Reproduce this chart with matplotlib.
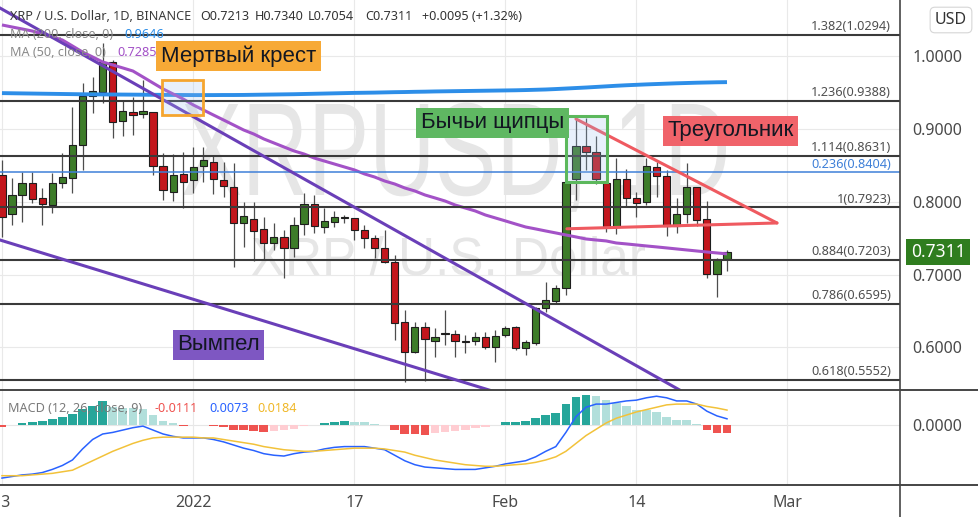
import numpy as np
import pandas as pd
import matplotlib
matplotlib.use('Agg')
import matplotlib.pyplot as plt
from matplotlib.patches import Rectangle, PathPatch
from matplotlib.textpath import TextPath
from matplotlib.font_manager import FontProperties
from matplotlib.transforms import Affine2D
from matplotlib.lines import Line2D

plt.rcParams['font.family'] = ['Noto Sans', 'DejaVu Sans']

W, H = 979, 517

# ---------------- данные (XRP/USD, 1D) ----------------
dates = pd.date_range('2021-12-13', '2022-02-23', freq='D')

opens = [0.837, 0.783, 0.810, 0.826, 0.805, 0.796, 0.826, 0.833, 0.878, 0.946,
         0.951, 0.992, 0.911, 0.923, 0.921, 0.923, 0.850, 0.813, 0.838, 0.830,
         0.849, 0.855, 0.830, 0.821, 0.771, 0.777, 0.763, 0.743, 0.752, 0.737,
         0.769, 0.797, 0.766, 0.772, 0.778, 0.778, 0.761, 0.750, 0.737, 0.717,
         0.635, 0.594, 0.628, 0.609, 0.619, 0.618, 0.609, 0.609, 0.614, 0.600,
         0.617, 0.628, 0.599, 0.606, 0.654, 0.664, 0.682, 0.831, 0.877, 0.869,
         0.826, 0.766, 0.832, 0.805, 0.800, 0.848, 0.836, 0.767, 0.784, 0.821,
         0.776, 0.701, 0.7213]
highs = [0.858, 0.833, 0.841, 0.841, 0.819, 0.840, 0.867, 0.930, 0.963, 0.972,
         1.018, 0.995, 0.939, 0.944, 0.968, 0.923, 0.867, 0.866, 0.869, 0.875,
         0.875, 0.864, 0.855, 0.853, 0.800, 0.800, 0.779, 0.771, 0.761, 0.779,
         0.812, 0.809, 0.792, 0.787, 0.782, 0.778, 0.768, 0.754, 0.761, 0.727,
         0.651, 0.635, 0.635, 0.627, 0.651, 0.624, 0.617, 0.621, 0.621, 0.624,
         0.629, 0.630, 0.610, 0.655, 0.690, 0.686, 0.830, 0.915, 0.915, 0.891,
         0.826, 0.860, 0.845, 0.814, 0.860, 0.855, 0.844, 0.805, 0.853, 0.821,
         0.801, 0.723, 0.7340]
lows = [0.752, 0.768, 0.772, 0.799, 0.768, 0.785, 0.819, 0.812, 0.844, 0.922,
        0.936, 0.888, 0.890, 0.892, 0.915, 0.837, 0.803, 0.801, 0.792, 0.812,
        0.827, 0.811, 0.807, 0.711, 0.738, 0.719, 0.720, 0.734, 0.695, 0.724,
        0.754, 0.757, 0.757, 0.766, 0.771, 0.748, 0.737, 0.723, 0.716, 0.610,
        0.552, 0.592, 0.554, 0.587, 0.603, 0.587, 0.592, 0.603, 0.598, 0.580,
        0.614, 0.597, 0.589, 0.603, 0.649, 0.661, 0.672, 0.803, 0.844, 0.825,
        0.759, 0.756, 0.793, 0.779, 0.796, 0.807, 0.753, 0.757, 0.771, 0.767,
        0.695, 0.669, 0.7054]
closes = [0.779, 0.810, 0.826, 0.804, 0.797, 0.826, 0.834, 0.878, 0.946, 0.952,
          0.992, 0.910, 0.925, 0.919, 0.925, 0.849, 0.816, 0.837, 0.827, 0.848,
          0.858, 0.831, 0.822, 0.771, 0.780, 0.760, 0.743, 0.752, 0.737, 0.768,
          0.797, 0.767, 0.774, 0.779, 0.779, 0.761, 0.750, 0.737, 0.717, 0.634,
          0.594, 0.628, 0.612, 0.614, 0.618, 0.609, 0.608, 0.614, 0.600, 0.615,
          0.627, 0.599, 0.607, 0.654, 0.665, 0.682, 0.827, 0.877, 0.869, 0.831,
          0.766, 0.832, 0.805, 0.798, 0.849, 0.836, 0.767, 0.783, 0.821, 0.775,
          0.701, 0.7216, 0.7311]

ma200 = [0.9495, 0.9493, 0.9491, 0.9489, 0.9487, 0.9485, 0.9483, 0.9481, 0.9479, 0.9478,
         0.9477, 0.9476, 0.9475, 0.9474, 0.9473, 0.9472, 0.9471, 0.9470, 0.9469, 0.9468,
         0.9468, 0.9468, 0.9469, 0.9469, 0.9470, 0.9472, 0.9474, 0.9476, 0.9478, 0.9480,
         0.9483, 0.9486, 0.9489, 0.9492, 0.9495, 0.9498, 0.9500, 0.9502, 0.9505, 0.9508,
         0.9510, 0.9513, 0.9515, 0.9518, 0.9520, 0.9522, 0.9524, 0.9526, 0.9528, 0.9530,
         0.9532, 0.9534, 0.9537, 0.9541, 0.9545, 0.9551, 0.9558, 0.9565, 0.9572, 0.9580,
         0.9588, 0.9596, 0.9603, 0.9609, 0.9615, 0.9620, 0.9625, 0.9630, 0.9634, 0.9638,
         0.9641, 0.9644, 0.9646]
ma50 = [1.0432, 1.0404, 1.0377, 1.0349, 1.0308, 1.0267, 1.0225, 1.0143, 1.0060, 0.9992,
        0.9923, 0.9882, 0.9841, 0.9799, 0.9717, 0.9634, 0.9552, 0.9483, 0.9414, 0.9332,
        0.9263, 0.9194, 0.9126, 0.9057, 0.8988, 0.8933, 0.8865, 0.8810, 0.8755, 0.8700,
        0.8658, 0.8603, 0.8562, 0.8521, 0.8480, 0.8439, 0.8384, 0.8342, 0.8287, 0.8246,
        0.8191, 0.8150, 0.8095, 0.8054, 0.8012, 0.7957, 0.7916, 0.7875, 0.7820, 0.7779,
        0.7738, 0.7696, 0.7655, 0.7628, 0.7600, 0.7573, 0.7545, 0.7518, 0.7490, 0.7476,
        0.7463, 0.7435, 0.7422, 0.7408, 0.7394, 0.7381, 0.7367, 0.7353, 0.7339, 0.7325,
        0.7311, 0.7298, 0.7285]

macd_line = [-0.068, -0.066, -0.064, -0.063, -0.061, -0.057, -0.052, -0.045, -0.031, -0.019,
             -0.012, -0.010, -0.007, -0.004, -0.002, -0.007, -0.012, -0.015, -0.017, -0.017,
             -0.017, -0.019, -0.022, -0.026, -0.030, -0.033, -0.037, -0.039, -0.040, -0.037,
             -0.035, -0.034, -0.031, -0.029, -0.028, -0.028, -0.028, -0.030, -0.032, -0.039,
             -0.046, -0.051, -0.054, -0.055, -0.056, -0.057, -0.057, -0.057, -0.055, -0.053,
             -0.050, -0.048, -0.046, -0.041, -0.034, -0.028, -0.010, 0.010, 0.022, 0.026,
             0.026, 0.028, 0.030, 0.031, 0.034, 0.036, 0.034, 0.030, 0.030, 0.026,
             0.017, 0.011, 0.0073]
signal_line = [-0.065, -0.065, -0.065, -0.064, -0.063, -0.062, -0.060, -0.058, -0.052, -0.046,
               -0.040, -0.034, -0.029, -0.024, -0.020, -0.017, -0.016, -0.016, -0.016, -0.016,
               -0.017, -0.017, -0.019, -0.021, -0.023, -0.025, -0.028, -0.030, -0.032, -0.033,
               -0.034, -0.034, -0.033, -0.032, -0.031, -0.030, -0.030, -0.030, -0.031, -0.033,
               -0.035, -0.039, -0.042, -0.045, -0.047, -0.049, -0.051, -0.052, -0.053, -0.053,
               -0.052, -0.051, -0.050, -0.048, -0.045, -0.041, -0.034, -0.024, -0.014, -0.006,
               0.002, 0.008, 0.012, 0.016, 0.019, 0.022, 0.025, 0.026, 0.026, 0.026,
               0.023, 0.021, 0.0184]
macd_hist = [-0.0034, -0.0009, 0.0017, 0.0030, 0.0043, 0.0072, 0.0094, 0.0136, 0.0200, 0.0242,
             0.0298, 0.0225, 0.0215, 0.0210, 0.0200, 0.0125, 0.0043, 0.0017, -0.0017, -0.0005,
             -0.0003, -0.0021, -0.0026, -0.0068, -0.0070, -0.0077, -0.0089, -0.0077, -0.0068, -0.0060,
             -0.0013, -0.0008, 0.0017, 0.0030, 0.0043, 0.0038, 0.0030, 0.0009, -0.0008, -0.0068,
             -0.0119, -0.0122, -0.0132, -0.0106, -0.0098, -0.0077, -0.0068, -0.0043, -0.0026, -0.0004,
             0.0030, 0.0031, 0.0047, 0.0081, 0.0123, 0.0149, 0.0264, 0.0349, 0.0378, 0.0361,
             0.0306, 0.0276, 0.0234, 0.0187, 0.0179, 0.0157, 0.0094, 0.0060, 0.0055, 0.0013,
             -0.0068, -0.0106, -0.0111]

# уровни Фибоначчи
fib_ratios = ['1.382', '1.236', '1.114', '0.236', '1', '0.884', '0.786', '0.618']
fib_prices = [1.0294, 0.9388, 0.8631, 0.8404, 0.7923, 0.7203, 0.6595, 0.5552]

# разметка фигур (день от 01.01.2022, цена)
pennant_upper = [(-20.0, 1.0727), (49.0, 0.5359)]
pennant_lower = [(-20.0, 0.7510), (30.0, 0.5387)]
triangle_upper = [(38.0, 0.914), (57.96, 0.771)]
triangle_lower = [(37.1, 0.763), (57.96, 0.771)]
dead_cross_box = [(-3.11, 0.9195), (0.96, 0.9676)]
tweezers_box = [(37.0, 0.8274), (41.08, 0.9181)]

labels = [('Мертвый крест', 4.49, 1.0005, '#f7a936'),
          ('Бычьи щипцы', 29.71, 0.9085, '#5fb862'),
          ('Треугольник', 53.35, 0.8975, '#f0636a'),
          ('Вымпел', 2.5, 0.6033, '#7e57c2')]

tick_dates = ['2021-12-13', '2022-01-01', '2022-01-17', '2022-02-01', '2022-02-14', '2022-03-01']
tick_labels = ['13', '2022', '17', 'Feb', '14', 'Mar']

t0 = pd.Timestamp('2022-01-01')
x = np.asarray((dates - t0).days, dtype=float)
tx = [(pd.Timestamp(d) - t0).days for d in tick_dates]

# ---------------- фигура ----------------
fig = plt.figure(figsize=(W / 100, H / 100), dpi=100)
fig.patch.set_facecolor('white')

ax = fig.add_axes([0, 127 / H, 900 / W, 390 / H])
axm = fig.add_axes([0, 32 / H, 900 / W, 95 / H])

xlim = (-19.196, 70.18)
for a in (ax, axm):
    a.set_xlim(*xlim)
    for s in a.spines.values():
        s.set_visible(False)
    a.set_xticks(tx)
    a.grid(axis='x', color='#e9e9e9', lw=0.8, zorder=0)
    a.set_axisbelow(True)
ax.set_ylim(0.5414, 1.0775)
axm.set_ylim(-0.0768, 0.0439)

# основная панель
ax.tick_params(axis='x', length=0, labelbottom=False)
ax.yaxis.tick_right()
ax.set_yticks([0.6, 0.7, 0.8, 0.9, 1.0])
ax.set_yticklabels([f'{v:.4f}' for v in [0.6, 0.7, 0.8, 0.9, 1.0]])
ax.tick_params(axis='y', length=0, pad=9, labelsize=11.5, labelcolor='#4a4a4a')
ax.grid(axis='y', color='#e9e9e9', lw=0.8, zorder=0)


def watermark(a, s, x0, x1, base, cap, color):
    fp = FontProperties(family='Liberation Sans')
    tp = TextPath((0, 0), s, size=1, prop=fp)
    ext = tp.get_extents()
    caph = TextPath((0, 0), 'X', size=1, prop=fp).get_extents().height
    tr = Affine2D().translate(-ext.x0, 0).scale((x1 - x0) / ext.width, cap / caph).translate(x0, H - base)
    a.add_artist(PathPatch(tp, facecolor=color, edgecolor='none', transform=tr, zorder=1))


watermark(ax, 'XRPUSD, 1D', 183, 726, 195, 91, '#e6e6e6')
watermark(ax, 'XRP / U.S. Dollar', 252, 645, 275, 37, '#e6e6e6')

# свечи
o = np.array(opens)
c = np.array(closes)
up = c >= o
body_lo = np.minimum(o, c)
body_h = np.maximum(np.abs(c - o), 0.0012)
ax.vlines(x, lows, highs, color='#4d4d4d', lw=0.9, zorder=2)
ax.bar(x, body_h, bottom=body_lo, width=0.72, color=np.where(up, '#3d7c29', '#c3161c'),
       edgecolor='#1e1e1e', linewidth=0.8, zorder=3)

# скользящие средние
ax.plot(x, ma200, color='#2d8ee8', lw=2.8, zorder=4, solid_capstyle='butt')
ax.plot(x, ma50, color='#a352c7', lw=2.2, zorder=4, solid_capstyle='butt')

# Фибоначчи
ytr = ax.get_yaxis_transform()
for r, p in zip(fib_ratios, fib_prices):
    col = '#3f80d8' if r == '0.236' else '#3a3a3a'
    ax.axhline(p, color=col, lw=1.1 if r == '0.236' else 1.5, zorder=5)
    ax.text(891 / 900, p + 0.0022, f'{r}({p:.4f})', transform=ytr, ha='right', va='bottom',
            fontsize=9.2, color='#3f80d8' if r == '0.236' else '#505050', zorder=6)

# фигуры
for seg, col in [(pennant_upper, '#6a3fb8'), (pennant_lower, '#6a3fb8'),
                 (triangle_upper, '#ef5a60'), (triangle_lower, '#ef5a60')]:
    (xa, ya), (xb, yb) = seg
    ax.plot([xa, xb], [ya, yb], color=col, lw=2.2, zorder=6, solid_capstyle='round')

for (xa, ya), (xb, yb) in [dead_cross_box]:
    ax.add_patch(Rectangle((xa, ya), xb - xa, yb - ya, facecolor=(0.6, 0.75, 0.93, 0.22),
                           edgecolor='#f5a52f', lw=2, zorder=6))
for (xa, ya), (xb, yb) in [tweezers_box]:
    ax.add_patch(Rectangle((xa, ya), xb - xa, yb - ya, facecolor=(0.6, 0.75, 0.93, 0.22),
                           edgecolor='#5cb85c', lw=2.2, zorder=6))

for s, lx, ly, fc in labels:
    ax.text(lx, ly, s, fontsize=16, family=['Liberation Sans', 'DejaVu Sans'], color='#131722',
            ha='center', va='center', zorder=9,
            bbox=dict(boxstyle='square,pad=0.2', fc=fc, ec='none'))

# метка последней цены
ax.text(938 / 900, closes[-1], f'{closes[-1]:.4f}', transform=ytr, ha='center', va='center',
        fontsize=12.5, fontweight='bold', color='white', zorder=10, clip_on=False,
        bbox=dict(boxstyle='square,pad=0.25', fc='#2f7d1f', ec='none'))

# ---------------- MACD ----------------
hist = np.array(macd_hist)
hcol = []
for i, h in enumerate(hist):
    prev = hist[i - 1] if i > 0 else h
    if h >= 0:
        hcol.append('#26a69a' if h > prev else '#b2dfdb')
    else:
        hcol.append('#ffcdd2' if h > prev else '#ef5350')
axm.axhline(0, color='#e6e6e6', lw=0.8, zorder=0)
axm.bar(x, hist, width=0.86, color=hcol, zorder=2)
axm.plot(x, macd_line, color='#2962ff', lw=1.1, zorder=3)
axm.plot(x, signal_line, color='#f2c23a', lw=1.1, zorder=3)

axm.yaxis.tick_right()
axm.set_yticks([0])
axm.set_yticklabels(['0.0000'])
axm.tick_params(axis='y', length=0, pad=9, labelsize=11.5, labelcolor='#4a4a4a')
axm.set_xticklabels(tick_labels)
axm.tick_params(axis='x', length=0, pad=7, labelsize=11.5, labelcolor='#4a4a4a')


def fx(px):
    return px / W


def fy(py):
    return 1 - py / H


# легенды
hdr = dict(fontsize=9.1, va='center', ha='left', zorder=10)
fig.text(fx(10), fy(17), 'XRP / U.S. Dollar, 1D, BINANCE', color='#3a3a3a', **hdr)
for s, px in [('O0.7213', 200), ('H0.7340', 255), ('L0.7054', 308), ('C0.7311', 365),
              ('+0.0095 (+1.32%)', 422)]:
    fig.text(fx(px), fy(17), s, color='#333333', **hdr)
fig.text(fx(10), fy(35), 'MA (200, close, 0)', color='#8a8a8a', **hdr)
fig.text(fx(124), fy(35), f'{ma200[-1]:.4f}', color='#2d8ee8', **hdr)
fig.text(fx(10), fy(53), 'MA (50, close, 0)', color='#8a8a8a', **hdr)
fig.text(fx(117), fy(53), f'{ma50[-1]:.4f}', color='#a352c7', **hdr)

fig.text(fx(8), fy(408), 'MACD (12, 26, close, 9)', color='#7a7a7a', **hdr)
fig.text(fx(155), fy(408), f'{macd_hist[-1]:.4f}', color='#ef5350', **hdr)
fig.text(fx(209), fy(408), f'{macd_line[-1]:.4f}', color='#2962ff', **hdr)
fig.text(fx(257), fy(408), f'{signal_line[-1]:.4f}', color='#f0b829', **hdr)

fig.text(fx(951), fy(20), 'USD', fontsize=11.5, color='#333333', ha='center', va='center',
         bbox=dict(boxstyle='round,pad=0.3,rounding_size=0.3', fc='white', ec='#d6d6d6', lw=0.8))

# разделители панелей
for yy in (390, 485):
    fig.add_artist(Line2D([0, 1], [fy(yy), fy(yy)], transform=fig.transFigure, color='#454545', lw=1.4))
fig.add_artist(Line2D([fx(900), fx(900)], [0, 1], transform=fig.transFigure, color='#454545', lw=1.2))

fig.savefig('out.png', dpi=100, facecolor='white')
